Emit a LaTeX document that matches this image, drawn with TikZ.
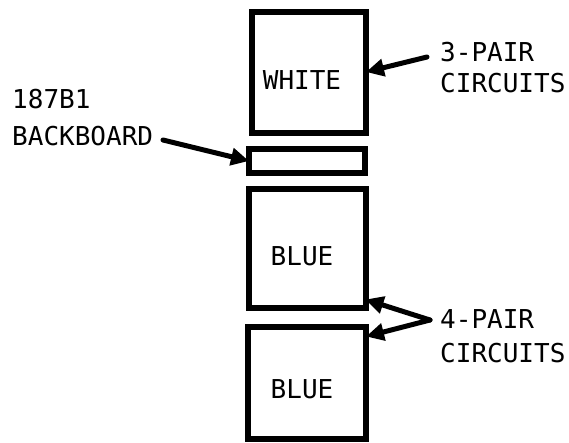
\documentclass[tikz,border=0pt]{standalone}
\usepackage{fontspec}
\newfontfamily\lblfont{DejaVu Sans Mono}
\usetikzlibrary{arrows.meta}
\tikzset{
  box/.style={draw, line width=6pt, inner sep=0pt, outer sep=0pt},
  txt/.style={inner sep=0pt, font=\lblfont\fontsize{26}{30}\selectfont},
  arr/.style={line width=5pt, line cap=round, line join=round, -{Triangle[length=18pt,width=17pt]}}
}
\begin{document}
\begin{tikzpicture}[x=1pt,y=-1pt]
\useasboundingbox (0,0) rectangle (569,442);
% boxes
\node[box, minimum width=114pt, minimum height=121pt] (white) at (309,72) {};
\node[box, minimum width=116pt, minimum height=23.5pt] (bb) at (307,161) {};
\node[box, minimum width=117pt, minimum height=119pt] (blue1) at (307,248) {};
\node[box, minimum width=118pt, minimum height=112pt] (blue2) at (307,382.5) {};
% box texts
\node[txt, anchor=base] (twhite) at (302,89) {WHITE};
\node[txt, anchor=base] (tblue1) at (302,265) {BLUE};
\node[txt, anchor=base] (tblue2) at (302,398) {BLUE};
% labels
\node[txt, anchor=base west] (l3a) at (440,61) {3-PAIR};
\node[txt, anchor=base west] (l3b) at (440,92) {CIRCUITS};
\node[txt, anchor=base west] (lba) at (12,108) {187B1};
\node[txt, anchor=base west] (lbb) at (12,145) {BACKBOARD};
\node[txt, anchor=base west] (l4a) at (440,328) {4-PAIR};
\node[txt, anchor=base west] (l4b) at (440,362) {CIRCUITS};
% arrow tails
\coordinate (t3) at (427,57);
\coordinate (tbb) at (163,140);
\coordinate (t4) at (430,320);
% arrows
\draw[arr] (t3) -- (white.east);
\draw[arr] (tbb) -- (bb.west);
\draw[arr] (t4) -- ([yshift=8pt]blue1.south east);
\draw[arr] (t4) -- ([yshift=-10pt]blue2.north east);
\end{tikzpicture}
\end{document}
